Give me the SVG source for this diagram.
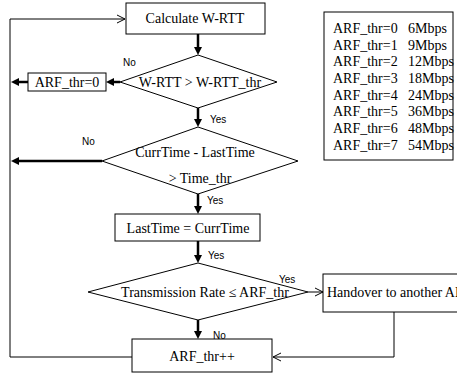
<svg xmlns="http://www.w3.org/2000/svg" width="457" height="374" viewBox="0 0 457 374">
<style>
.box{fill:#fff;stroke:#000;stroke-width:1}
.t{font-family:"Liberation Serif","Times New Roman",serif;font-size:14px;fill:#000}
.c{text-anchor:middle;dominant-baseline:central}
.lbl{font-family:"Liberation Sans",Arial,sans-serif;font-size:10px;fill:#000}
.thick{stroke:#000;stroke-width:2.5;fill:none;marker-end:url(#fa)}
.thin{stroke:#000;stroke-width:1;fill:none}
.thinA{stroke:#000;stroke-width:1;fill:none;marker-end:url(#oa)}
</style>
<defs>
<marker id="fa" markerUnits="userSpaceOnUse" markerWidth="9" markerHeight="9" refX="3" refY="4" orient="auto" overflow="visible">
<path d="M0,0 L8,4 L0,8 z" fill="#000"/>
</marker>
<marker id="oa" markerUnits="userSpaceOnUse" markerWidth="9" markerHeight="9" refX="8" refY="4" orient="auto" overflow="visible">
<path d="M0,0 L8,4 L0,8" fill="none" stroke="#000" stroke-width="1"/>
</marker>
</defs>
<rect width="457" height="374" fill="#fff"/>

<g id="connectors">
<line class="thick" x1="198" y1="34" x2="198" y2="50"/>
<line class="thick" x1="120" y1="82" x2="111" y2="82"/>
<line class="thick" x1="28" y1="82" x2="16" y2="82"/>
<line class="thick" x1="198" y1="108" x2="198" y2="122"/>
<line class="thick" x1="102" y1="161" x2="16" y2="161"/>
<line class="thick" x1="198" y1="194" x2="198" y2="209"/>
<line class="thick" x1="198" y1="241" x2="198" y2="258"/>
<line class="thick" x1="198" y1="320" x2="198" y2="334"/>
<line class="thinA" x1="308" y1="292" x2="323" y2="292"/>
<polyline class="thinA" points="394,312 394,357 273,357"/>
<polyline class="thinA" points="132,357 10,357 10,19 125,19"/>
<text class="lbl" x="123" y="66">No</text>
<text class="lbl" x="210" y="123">Yes</text>
<text class="lbl" x="82" y="145">No</text>
<text class="lbl" x="207" y="204">Yes</text>
<text class="lbl" x="208" y="259">Yes</text>
<text class="lbl" x="279" y="283">Yes</text>
<text class="lbl" x="213" y="339">No</text>
</g>

<g id="calc">
<rect class="box" x="126" y="3" width="139" height="31"/>
<text class="t c" x="195" y="18">Calculate W-RTT</text>
</g>

<g id="cond1">
<polygon class="box" points="198,55 277,82 198,108 120,82"/>
<text class="t c" x="200" y="82">W-RTT &gt; W-RTT_thr</text>
</g>

<g id="reset">
<rect class="box" x="28" y="73" width="78" height="18"/>
<text class="t c" x="67" y="82">ARF_thr=0</text>
</g>

<g id="cond2">
<polygon class="box" points="198,127 298,161 198,194 102,161"/>
<text class="t c" x="195" y="152">CurrTime - LastTime</text>
<text class="t c" x="200" y="178">&gt; Time_thr</text>
</g>

<g id="update">
<rect class="box" x="115" y="214" width="145" height="27"/>
<text class="t c" x="188" y="228">LastTime = CurrTime</text>
</g>

<g id="cond3">
<polygon class="box" points="198,263 308,292 198,320 88,292"/>
<text class="t c" x="205" y="292">Transmission  Rate ≤ ARF_thr</text>
</g>

<g id="handover">
<rect class="box" x="323" y="274" width="200" height="38"/>
<text class="t" x="327" y="297">Handover to another AP</text>
</g>

<g id="incr">
<rect class="box" x="132" y="339" width="140" height="33"/>
<text class="t c" x="202" y="356">ARF_thr++</text>
</g>

<g id="table">
<rect class="box" x="324" y="12" width="129" height="148"/>
<text class="t" x="333" y="33">ARF_thr=0</text><text class="t" x="408" y="33">6Mbps</text>
<text class="t" x="333" y="50">ARF_thr=1</text><text class="t" x="408" y="50">9Mbps</text>
<text class="t" x="333" y="66">ARF_thr=2</text><text class="t" x="408" y="66">12Mbps</text>
<text class="t" x="333" y="83">ARF_thr=3</text><text class="t" x="408" y="83">18Mbps</text>
<text class="t" x="333" y="100">ARF_thr=4</text><text class="t" x="408" y="100">24Mbps</text>
<text class="t" x="333" y="116">ARF_thr=5</text><text class="t" x="408" y="116">36Mbps</text>
<text class="t" x="333" y="133">ARF_thr=6</text><text class="t" x="408" y="133">48Mbps</text>
<text class="t" x="333" y="150">ARF_thr=7</text><text class="t" x="408" y="150">54Mbps</text>
</g>
</svg>
